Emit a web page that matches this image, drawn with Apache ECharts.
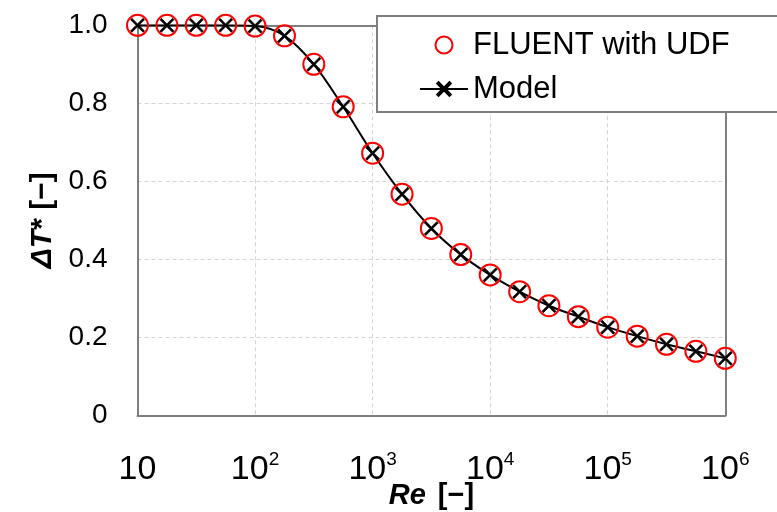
<!DOCTYPE html>
<html>
<head>
<meta charset="utf-8">
<script src="https://cdn.jsdelivr.net/npm/echarts@6/dist/echarts.min.js"></script>
<style>
html,body{margin:0;padding:0;background:#fff;}
#chart{width:777px;height:512px;}
</style>
</head>
<body>
<div id="chart"></div>
<script>
// Reynolds numbers (x)
var reValues = [10, 17.8, 31.6, 56.2, 100, 178, 316, 562, 1000, 1780, 3160, 5620,
  10000, 17800, 31600, 56200, 100000, 178000, 316000, 562000, 1000000];
// Delta T* from FLUENT with UDF
var fluentValues = [1.0, 1.0, 1.0, 1.0, 0.998, 0.973, 0.900, 0.791, 0.672, 0.567, 0.479, 0.412,
  0.360, 0.317, 0.281, 0.253, 0.226, 0.203, 0.182, 0.164, 0.146];
// Delta T* from Model
var modelValues = [1.0, 1.0, 1.0, 1.0, 0.998, 0.973, 0.900, 0.791, 0.672, 0.567, 0.479, 0.412,
  0.360, 0.317, 0.281, 0.253, 0.226, 0.203, 0.182, 0.164, 0.146];
var yTicks = [0, 0.2, 0.4, 0.6, 0.8, 1.0];
var seriesNames = ['FLUENT with UDF', 'Model'];

var FONT = 'Liberation Sans, Arial, sans-serif';
var crossPath = 'path://M1,0L5,4L9,0L10,1L6,5L10,9L9,10L5,6L1,10L0,9L4,5L0,1Z';
var BORDER = '#7f7f7f';

function pairs(xs, ys) { return xs.map(function (x, i) { return [x, ys[i]]; }); }

var chart = echarts.init(document.getElementById('chart'), null, {renderer: 'canvas'});
chart.setOption({
  backgroundColor: '#ffffff',
  animation: false,
  textStyle: {fontFamily: FONT},
  grid: {left: 137.5, right: 51.7, top: 25.3, bottom: 96.7, show: false,
    containLabel: false, outerBoundsMode: 'none'},
  legend: {
    orient: 'vertical', left: 377, top: 16,
    padding: [11, 120, 5, 42], itemGap: 8,
    itemWidth: 48, itemHeight: 17,
    backgroundColor: '#ffffff', borderColor: BORDER, borderWidth: 2,
    data: seriesNames,
    textStyle: {fontFamily: FONT, fontSize: 31, color: '#000', lineHeight: 36, padding: [0,0,0,0]}
  },
  xAxis: [{
    type: 'log', logBase: 10, min: 10, max: 1000000,
    axisLine: {show: true, onZero: false, lineStyle: {color: BORDER, width: 2}},
    axisTick: {show: false},
    splitLine: {show: true, lineStyle: {color: '#d4d4d4', type: [4, 3], width: 1}},
    minorTick: {show: false},
    axisLabel: {
      margin: 35, color: '#000',
      formatter: function (v) {
        var e = Math.round(Math.log(v) / Math.LN10);
        return e === 1 ? '{b|10}' : '{b|10}{s|' + e + '}';
      },
      rich: {
        b: {fontSize: 34, fontFamily: FONT, color: '#000', lineHeight: 36, verticalAlign: 'bottom'},
        s: {fontSize: 19, fontFamily: FONT, color: '#000', lineHeight: 36, verticalAlign: 'top'}
      }
    },
    name: '{i|Re}{n|[−]}', nameLocation: 'middle', nameGap: 66, nameMoveOverlap: false,
    nameTextStyle: {rich: {
      i: {fontSize: 29, fontWeight: 'bold', fontStyle: 'italic', fontFamily: FONT, color: '#000', padding: [0, 12, 0, 0]},
      n: {fontSize: 29, fontWeight: 'bold', fontFamily: FONT, color: '#000'}
    }}
  }, {
    type: 'log', logBase: 10, min: 10, max: 1000000, position: 'top',
    axisLine: {show: true, onZero: false, lineStyle: {color: BORDER, width: 2}},
    axisTick: {show: false}, axisLabel: {show: false}, splitLine: {show: false}
  }],
  yAxis: [{
    type: 'value', min: 0, max: 1.0, interval: 0.2,
    axisLine: {show: true, onZero: false, lineStyle: {color: BORDER, width: 2}},
    axisTick: {show: false},
    splitLine: {show: true, lineStyle: {color: '#d4d4d4', type: [4, 3], width: 1}},
    axisLabel: {
      margin: 30, color: '#000', fontSize: 28, fontFamily: FONT,
      formatter: function (v) {
        for (var i = 0; i < yTicks.length; i++) {
          if (Math.abs(yTicks[i] - v) < 1e-9) return yTicks[i] === 0 ? '0' : yTicks[i].toFixed(1);
        }
        return '';
      }
    },
    name: '{i|ΔT}{n|* [−]}', nameLocation: 'middle', nameGap: 80, nameRotate: 90, nameMoveOverlap: false,
    nameTextStyle: {rich: {
      i: {fontSize: 30, fontWeight: 'bold', fontStyle: 'italic', fontFamily: FONT, color: '#000'},
      n: {fontSize: 30, fontWeight: 'bold', fontFamily: FONT, color: '#000'}
    }}
  }, {
    type: 'value', min: 0, max: 1.0, interval: 0.2, position: 'right',
    axisLine: {show: true, onZero: false, lineStyle: {color: BORDER, width: 2}},
    axisTick: {show: false}, axisLabel: {show: false}, splitLine: {show: false}
  }],
  series: [
    {
      name: seriesNames[1], type: 'line', data: pairs(reValues, modelValues),
      smooth: 0.35, z: 2,
      lineStyle: {color: '#000', width: 2},
      symbol: crossPath, symbolSize: 14, showAllSymbol: true,
      itemStyle: {color: '#000', borderColor: '#000', borderWidth: 0.8}
    },
    {
      name: seriesNames[0], type: 'scatter', data: pairs(reValues, fluentValues),
      symbol: 'circle', symbolSize: 21, z: 3,
      itemStyle: {color: 'rgba(255,255,255,0)', borderColor: '#ff0000', borderWidth: 2, opacity: 1}
    }
  ]
});
</script>
</body>
</html>
